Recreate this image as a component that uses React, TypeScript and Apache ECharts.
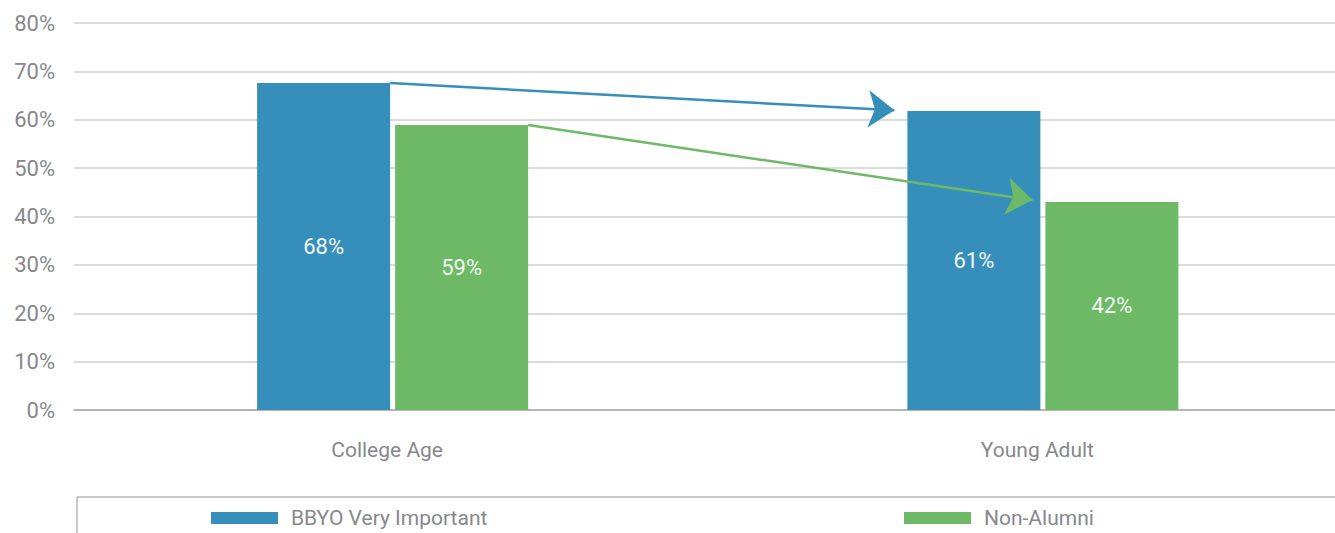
import React, { useEffect, useRef } from 'react';
import * as echarts from 'echarts';

const categories = ['College Age', 'Young Adult'];
const seriesNames = ['BBYO Very Important', 'Non-Alumni'];
const bbyoValues = [67.6, 61.8];
const nonAlumniValues = [58.9, 43.0];
const bbyoLabels = ['68%', '61%'];
const nonAlumniLabels = ['59%', '42%'];
const yMin = 0;
const yMax = 80;
const yInterval = 10;

const FONT = "Roboto, 'Liberation Sans', sans-serif";
const TEXT = '#86888c';
const BLUE = '#368fba';
const GREEN = '#6db966';
const BAR_W = 133;
const GAP = 5;
const ARROW_LEN = 26;
const VIEW_W = 1335;
const VIEW_H = 533;
const CHART_W = 1368;

export default function App() {
  const ref = useRef<HTMLDivElement>(null);
  useEffect(() => {
    if (!ref.current) return;
    const chart = echarts.init(ref.current, null, { renderer: 'svg' });
    const top = 23;
    const bottom = 123;
    const legendText = { fontFamily: FONT, fontSize: 21, lineHeight: 22, color: TEXT, padding: [0, 0, 0, 8] };
    const option: any = {
      animation: false,
      backgroundColor: '#ffffff',
      textStyle: { fontFamily: FONT },
      grid: [
        { left: 74, right: CHART_W - VIEW_W, top, bottom },
        { left: 67.5, right: 0, top, bottom },
      ],
      legend: [
        {
          data: [seriesNames[0]], left: 211, top: 507, padding: 0, itemWidth: 67, itemHeight: 12,
          icon: 'rect', textStyle: legendText, selectedMode: false,
        },
        {
          data: [seriesNames[1]], left: 904, top: 507, padding: 0, itemWidth: 67, itemHeight: 12,
          icon: 'rect', textStyle: legendText, selectedMode: false,
        },
      ],
      xAxis: [
        {
          type: 'category', gridIndex: 0, data: categories,
          axisLine: { show: true, lineStyle: { color: '#a8a8a8', width: 1.5 } },
          axisTick: { show: false }, axisLabel: { show: false }, splitLine: { show: false },
        },
        {
          type: 'category', gridIndex: 1, data: categories,
          axisLine: { show: false }, axisTick: { show: false },
          axisLabel: { show: true, color: TEXT, fontFamily: FONT, fontSize: 21, margin: 29, padding: [0, 11, 0, 0] },
        },
      ],
      yAxis: [
        {
          type: 'value', gridIndex: 0, min: yMin, max: yMax, interval: yInterval,
          axisLine: { show: false }, axisTick: { show: false },
          axisLabel: { formatter: '{value}%', color: TEXT, fontFamily: FONT, fontSize: 22, margin: 19 },
          splitLine: { lineStyle: { color: '#cfcfcf', width: 1.5 } },
        },
        {
          type: 'value', gridIndex: 1, min: yMin, max: yMax, interval: yInterval,
          show: false, splitLine: { show: false },
        },
      ],
      graphic: [
        { type: 'line', shape: { x1: 77, y1: 497, x2: VIEW_W, y2: 497 }, style: { stroke: '#b8b8b8', lineWidth: 1.5 } },
        { type: 'line', shape: { x1: 77, y1: 497, x2: 77, y2: VIEW_H }, style: { stroke: '#b8b8b8', lineWidth: 1.5 } },
      ],
      series: [
        {
          name: seriesNames[0], type: 'bar', xAxisIndex: 1, yAxisIndex: 1,
          data: bbyoValues, barWidth: BAR_W, barGap: (GAP / BAR_W * 100).toFixed(2) + '%',
          itemStyle: { color: BLUE },
          label: {
            show: true, position: 'inside', color: '#f2f6f9', fontFamily: FONT, fontSize: 22,
            formatter: (p: any) => bbyoLabels[p.dataIndex],
          },
        },
        {
          name: seriesNames[1], type: 'bar', xAxisIndex: 1, yAxisIndex: 1,
          data: nonAlumniValues, barWidth: BAR_W,
          itemStyle: { color: GREEN },
          label: {
            show: true, position: 'inside', color: '#f2f8f1', fontFamily: FONT, fontSize: 22,
            formatter: (p: any) => nonAlumniLabels[p.dataIndex],
          },
        },
      ],
    };
    chart.setOption(option);

    const px = (i: number, v: number) =>
      chart.convertToPixel({ xAxisIndex: 1, yAxisIndex: 1 }, [i, v]) as number[];
    const half = BAR_W + GAP / 2;
    const arrow = (a: number[], b: number[]) => {
      const dx = b[0] - a[0];
      const dy = b[1] - a[1];
      const len = Math.sqrt(dx * dx + dy * dy);
      const e = [b[0] - (dx / len) * ARROW_LEN / 2, b[1] - (dy / len) * ARROW_LEN / 2];
      return [{ x: a[0], y: a[1] }, { x: e[0], y: e[1] }];
    };
    const b0 = px(0, bbyoValues[0]);
    const b1 = px(1, bbyoValues[1]);
    const g0 = px(0, nonAlumniValues[0]);
    const g1 = px(1, nonAlumniValues[1]);
    const blueArrow = arrow([b0[0] - GAP / 2, b0[1]], [b1[0] - half, b1[1]]);
    const greenArrow = arrow([g0[0] + half, g0[1]], [g1[0] + GAP / 2, g1[1]]);
    const ml = (color: string, d: any) => ({
      silent: true, symbol: ['none', 'arrow'], symbolSize: [28, ARROW_LEN],
      label: { show: false }, lineStyle: { color, width: 2.5, type: 'solid' },
      itemStyle: { color }, emphasis: { disabled: true }, data: [d],
    });
    chart.setOption({
      series: [
        { name: seriesNames[0], markLine: ml(BLUE, blueArrow) },
        { name: seriesNames[1], markLine: ml(GREEN, greenArrow) },
      ],
    });
    return () => chart.dispose();
  }, []);
  return (
    <div style={{ position: 'absolute', left: 0, top: 0, width: VIEW_W, height: VIEW_H, overflow: 'hidden' }}>
      <div ref={ref} style={{ width: CHART_W, height: VIEW_H }} />
    </div>
  );
}
